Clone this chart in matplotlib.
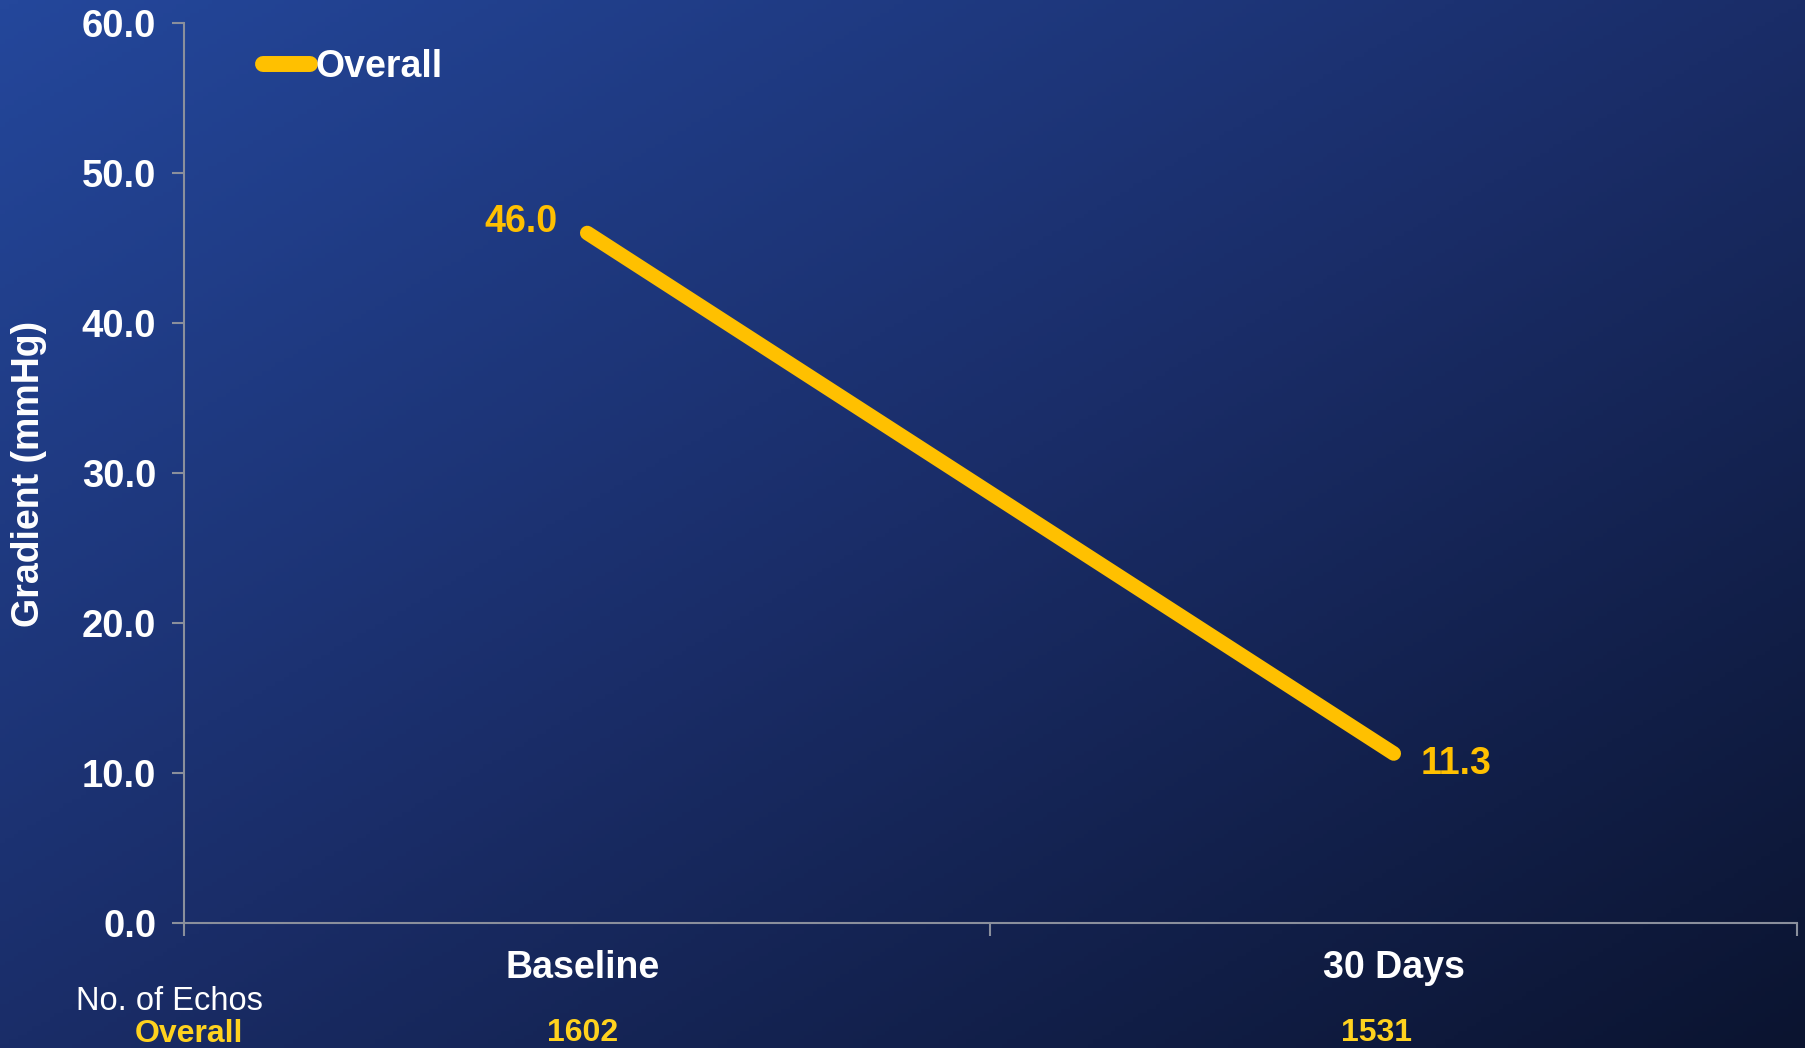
import numpy as np
import matplotlib.pyplot as plt
from matplotlib.colors import LinearSegmentedColormap

plt.rcParams['font.family'] = ['Liberation Sans', 'DejaVu Sans']

# echo gradient data
categories = ['Baseline', '30 Days']
gradient_mean = [46.0, 11.3]
echo_counts = ['1602', '1531']
series_name = 'Overall'
y_ticks = [0, 10, 20, 30, 40, 50, 60]

LINE_YELLOW = '#FFC000'
COUNT_YELLOW = '#FFD21E'
SPINE_GRAY = '#8a8f9c'
W, H = 1806, 1048

fig = plt.figure(figsize=(W / 100, H / 100), dpi=100)

# diagonal blue background
bg = fig.add_axes([0, 0, 1, 1], zorder=-10)
bg.axis('off')
xx, yy = np.meshgrid(np.linspace(0, 1, 400), np.linspace(0, 1, 240))
t = (xx + yy) / 2
cmap = LinearSegmentedColormap.from_list('bg', ['#24479b', '#1a2d68', '#0b1430'])
bg.imshow(t, cmap=cmap, aspect='auto', extent=[0, 1, 0, 1], origin='upper')

ax = fig.add_axes([184 / W, 125 / H, 1613 / W, 900 / H])
ax.patch.set_alpha(0)
x = np.arange(len(categories))
ax.plot(x, gradient_mean, color=LINE_YELLOW, lw=10.5, solid_capstyle='round', label=series_name)

ax.set_xlim(-0.5, 1.5)
ax.set_ylim(0, 60)
ax.set_yticks(y_ticks)
ax.set_yticklabels([f'{v:.1f}' for v in y_ticks])
ax.set_xticks([-0.5, 0.5, 1.5])
ax.set_xticklabels([])
for s in ['top', 'right']:
    ax.spines[s].set_visible(False)
for s in ['left', 'bottom']:
    ax.spines[s].set_color(SPINE_GRAY)
    ax.spines[s].set_linewidth(1.5)
ax.tick_params(axis='both', direction='out', length=9, width=1.5, color=SPINE_GRAY,
               labelcolor='white', labelsize=27.5, pad=11)
for lab in ax.get_yticklabels():
    lab.set_fontweight('bold')

# value labels
ax.annotate(f'{gradient_mean[0]:.1f}', (x[0], gradient_mean[0]), xytext=(-30, 11),
            textcoords='offset pixels', ha='right', va='center', color=LINE_YELLOW,
            fontsize=27, fontweight='bold')
ax.annotate(f'{gradient_mean[1]:.1f}', (x[1], gradient_mean[1]), xytext=(27, -11),
            textcoords='offset pixels', ha='left', va='center', color=LINE_YELLOW,
            fontsize=27, fontweight='bold')

# category labels and echo counts below the axis
label_shift = [-5, 0]
count_shift = [-5, -17]
for xi, cat, n, dl, dc in zip(x, categories, echo_counts, label_shift, count_shift):
    ax.annotate(cat, (xi, 0), xytext=(dl, -45), textcoords='offset pixels',
                ha='center', va='center', color='white', fontsize=27, fontweight='bold',
                annotation_clip=False)
    ax.annotate(n, (xi, 0), xytext=(dc, -110), textcoords='offset pixels',
                ha='center', va='center', color=COUNT_YELLOW, fontsize=23, fontweight='bold',
                annotation_clip=False)

fig.text(169 / W, 1 - 1001 / H, 'No. of Echos', ha='center', va='center',
         color='white', fontsize=23.5)
fig.text(189 / W, 1 - 1034 / H, series_name, ha='center', va='center',
         color=COUNT_YELLOW, fontsize=23, fontweight='bold')

fig.text(29 / W, 1 - 474 / H, 'Gradient (mmHg)', rotation=90, ha='center',
         va='center', color='white', fontsize=27, fontweight='bold')

# legend
leg = ax.legend(loc='center left', bbox_to_anchor=(0.049, 0.9515), frameon=False,
                borderpad=0, borderaxespad=0, handlelength=1.25, handletextpad=0.15,
                fontsize=27)
for txt in leg.get_texts():
    txt.set_color('white')
    txt.set_fontweight('bold')
leg.get_lines()[0].set_linewidth(11.5)

fig.savefig('out.png', dpi=100)
